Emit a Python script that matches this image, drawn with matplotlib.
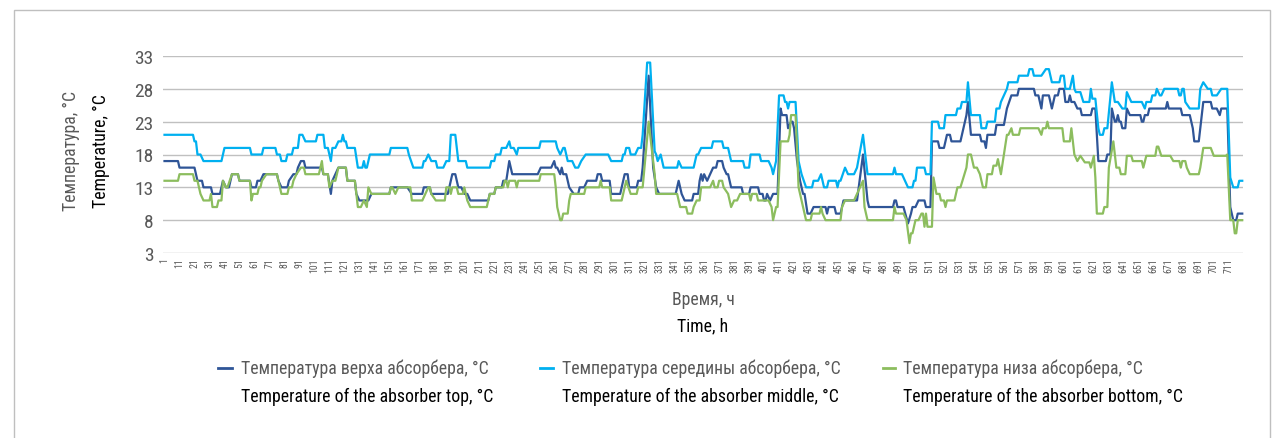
import matplotlib
matplotlib.use('Agg')
import matplotlib.pyplot as plt
from matplotlib.lines import Line2D
from matplotlib.patches import Rectangle
import logging
logging.getLogger('matplotlib.font_manager').setLevel(logging.ERROR)

plt.rcParams['font.family'] = ['Roboto Condensed', 'PT Sans Narrow', 'Fira Sans Condensed', 'DejaVu Sans']

# ---- data: (hour, temperature) key points ----
top_points = [(1,17),(10,17),(11,16),(21,16),(23,14),(26,14),(27,13),(32,13),(33,12),(38,12),(40,14),(42,13),(44,13),
 (46,15),(50,15),(51,14),(58,14),(59,13),(62,13),(63,14),(65,14),(67,15),(76,15),(77,14),(79,13),(83,13),(84,14),
 (87,15),(89,15),(90,16),(92,17),(94,17),(95,16),(106,16),(107,15),(110,15),(112,12),(113,14),(115,15),(117,16),
 (122,16),(123,14),(128,14),(129,12),(131,11),(137,11),(139,12),(151,12),(152,13),(163,13),(166,12),(173,12),
 (174,13),(178,13),(179,12),(190,12),(191,13),(193,15),(195,15),(197,13),(199,13),(201,12),(203,12),(205,11),
 (217,11),(218,12),(221,12),(222,13),(226,13),(227,14),(229,14),(231,17),(233,15),(250,15),(252,16),(259,16),
 (261,17),(262,16),(263,16),(265,15),(266,16),(267,15),(269,15),(271,13),(274,12),(277,12),(278,13),(281,13),
 (283,14),(289,14),(290,15),(292,15),(293,14),(298,14),(299,12),(305,12),(306,13),(308,15),(310,15),(311,13),
 (316,13),(317,14),(319,14),(320,16),(324,30),(327,16),(329,13),(331,12),(342,12),(344,14),(346,12),(348,11),
 (353,11),(354,12),(357,12),(358,14),(359,15),(360,14),(361,15),(363,14),(365,15),(367,16),(369,16),(370,17),
 (373,17),(374,16),(376,15),(377,15),(379,13),(386,13),(387,12),(391,12),(392,13),(397,13),(398,12),(400,12),
 (401,11),(402,11),(403,12),(405,11),(407,12),(410,12),(412,25),(413,24),(416,24),(417,22),(419,23),(420,23),
 (421,22),(423,17),(425,14),(427,12),(428,12),(430,9),(432,9),(434,10),(442,10),(443,9),(444,10),(448,10),
 (449,9),(452,9),(454,11),(463,11),(467,18),(470,11),(471,10),(487,10),(488,11),(489,11),(490,10),(494,10),
 (497,7.5),(499,9),(500,10),(502,10),(504,11),(508,11),(509,10),(512,10),(513,20),(517,20),(518,19),(521,19),
 (522,20),(523,21),(525,21),(526,20),(532,20),(533,21),(536,24),(537,26),(539,21),(545,21),(546,20),(548,20),
 (549,19),(550,21),(555,21),(556,22.5),(561,22.5),(563,25),(566,27),(570,27),(571,28),(581,28),(582,27),
 (584,27),(585,26),(586,25),(587,27),(591,27),(593,25),(595,27),(597,27),(598,28),(601,28),(602,26),(604,26),
 (605,27),(606,26),(608,26),(610,25),(612,25),(613,24),(619,24),(620,25),(622,25),(624,17),(629,17),(630,18),
 (632,18),(633,25),(635,23),(636,23),(637,24),(638,23),(639,23),(640,22),(642,22),(643,25),(645,24),(652,24),
 (653,23),(654,23),(655,24),(657,24),(658,25),(669,25),(670,26),(671,25),(679,25),(680,24),(685,24),(687,22),
 (688,20),(691,20),(692,22),(694,26),(699,26),(700,25),(703,25),(705,24),(706,25),(710,25),(712,10),(714,8),
 (716,8),(717,9),(720,9)]

middle_points = [(1,21),(20,21),(21,20),(22,20),(23,18),(25,18),(27,17),(39,17),(41,19),(58,19),(59,18),(66,18),
 (67,19),(75,19),(76,18),(78,18),(79,17),(82,17),(83,18),(86,18),(87,19),(90,19),(91,21),(93,21),(95,20),(102,20),
 (103,21),(107,21),(108,19),(110,19),(112,17),(113,19),(115,19),(117,20),(119,20),(120,21),(121,20),(122,20),
 (123,19),(128,19),(130,16),(133,16),(134,17),(135,16),(136,16),(137,17),(138,18),(151,18),(152,19),(163,19),
 (164,18),(167,16),(173,16),(174,17),(175,17),(177,18),(179,17),(182,17),(183,16),(187,16),(189,17),(191,17),
 (192,21),(195,21),(197,17),(202,17),(203,16),(218,16),(219,17),(221,17),(222,18),(225,18),(226,19),(229,19),
 (231,20),(232,19),(234,19),(236,18),(237,19),(251,19),(252,20),(262,20),(263,19),(265,18),(267,19),(268,19),
 (270,17),(273,17),(275,16),(277,16),(279,17),(282,18),(297,18),(299,17),(306,17),(307,18),(308,18),(309,19),
 (311,19),(312,18),(315,18),(317,19),(319,19),(320,21),(323,32),(325,32),(328,18.5),(329,18),(330,17),(332,18),
 (334,16),(343,16),(344,17),(346,16),(354,16),(355,17),(356,18),(357,18),(359,19),(366,19),(367,20),(373,20),
 (374,19),(377,19),(378,18),(379,17),(387,17),(388,16),(391,16),(392,18),(398,18),(399,17),(404,17),(406,16),
 (407,15),(409,17),(411,27),(414,27),(415,26),(416,26),(417,25),(418,26),(422,26),(424,17),(426,15),(429,13),
 (433,13),(434,14),(437,14),(439,15),(441,13),(443,13),(444,14),(449,14),(450,13),(451,14),(452,14),(455,16),
 (457,15),(461,15),(463,16),(467,21),(470,15),(487,15),(488,16),(489,15),(493,15),(497,13),(500,13),(501,14),
 (502,14),(503,16),(508,16),(509,15),(512,15),(513,23),(517,23),(518,22),(521,22),(522,24),(529,24),(530,25),
 (532,25),(533,26),(536,26),(537,29),(539,24),(545,24),(546,22),(549,22),(550,23),(555,23),(556,25),(558,25),
 (559,26),(561,27),(563,28),(564,29),(570,29),(571,30),(577,30),(578,31),(580,31),(581,30),(586,30),(589,31),
 (591,31),(592,30),(593,29),(598,29),(599,30),(601,30),(602,28),(605,28),(607,30),(608,28),(609,27.5),
 (612,27.5),(614,26),(618,26),(619,28),(620,26.5),(622,26.5),(624,22),(625,21),(627,21),(628,22),(630,22),
 (633,29),(635,26),(637,26),(640,25),(642,25),(643,27.5),(646,26),(653,26),(655,25),(656,26),(659,26),(660,27),
 (662,27),(663,28),(665,27),(666,27),(668,28),(677,28),(678,27),(679,27),(680,28),(681,28),(682,26),(685,25),
 (691,25),(692,28),(694,29),(697,28),(699,28),(700,27),(703,27),(706,28),(710,28),(712,14.5),(714,13),(717,13),
 (718,14),(720,14)]

bottom_points = [(1,14),(10,14),(11,15),(20,15),(21,14),(23,14),(25,12),(27,11),(31,11),(32,12),(33,10),(36,10),
 (37,11),(39,11),(40,14),(42,13),(43,13),(46,15),(50,15),(51,14),(58,14),(59,11),(60,12),(63,12),(64,13),(65,13),
 (66,14),(69,15),(76,15),(77,14),(79,12),(83,12),(84,13),(86,13),(87,14),(89,15),(92,16),(94,16),(95,15),(104,15),
 (106,17),(107,15),(110,15),(111,13),(113,14),(115,14),(117,16),(122,16),(123,14),(128,14),(129,12),(130,10),
 (132,10),(134,11),(136,10),(137,13),(139,12),(151,12),(152,13),(153,13),(155,12),(157,13),(165,13),(166,11),
 (173,11),(175,12),(177,13),(178,13),(179,12),(182,11),(188,11),(189,13),(191,13),(192,12),(193,13),(196,13),
 (197,12),(200,12),(201,13),(203,11),(205,10),(216,10),(218,12),(221,12),(222,13),(227,13),(228,14),(229,14),
 (230,13),(231,14),(235,14),(236,13),(237,14),(251,14),(252,15),(261,15),(262,13),(263,10),(265,8),(266,8),
 (267,9),(270,9),(271,11),(272,12),(281,12),(282,13),(291,13),(292,14),(293,13),(298,13),(299,11),(306,11),
 (307,12),(309,14),(312,12),(316,12),(317,13),(320,13),(324,23),(328,15),(329,12),(343,12),(345,10),(349,10),
 (350,9),(353,9),(354,10),(356,11),(358,11),(359,13),(365,13),(367,14),(368,13),(370,13),(371,14),(373,14),
 (374,13),(377,12),(379,10),(381,11),(383,11),(385,12),(391,12),(392,11),(393,12),(396,12),(397,11),(404,11),
 (406,10),(407,8),(409,10),(410,10),(412,20),(417,20),(418,21),(419,24),(422,24),(423,19),(424,13),(427,10),
 (429,8),(432,8),(433,9),(438,9),(439,10),(440,9),(442,8),(452,8),(453,10),(455,11),(461,11),(463,12),(467,14),
 (468,10),(470,8),(487,8),(488,10),(489,9),(494,9),(496,8),(498,4.5),(499,6),(500,6),(502,8),(504,8),(506,9),
 (507,9),(508,7),(509,9),(510,7),(513,7),(514,14.5),(516,12),(518,12),(519,11),(521,11),(522,10),(523,11),
 (528,11),(530,13),(532,13),(536,16),(537,18),(539,18),(541,16),(543,16),(545,15),(547,13),(549,13),(550,15),
 (553,15),(554,16.3),(556,16.3),(557,17.3),(559,15),(561,18),(563,21),(564,21),(566,22),(567,21),(571,21),
 (572,22),(584,22),(586,21),(587,22),(589,22),(590,23),(591,22),(600,22),(601,20),(605,20),(606,22),(608,18),
 (610,17),(612,17.8),(615,16.8),(618,16.8),(619,16),(621,17.8),(622,14.5),(623,9),(627,9),(628,10),(630,10),
 (631,16),(634,20),(636,16),(638,16),(639,15),(642,15),(643,17.8),(646,17.8),(647,17),(653,17),(654,16),
 (656,17.8),(662,17.8),(663,19.2),(664,19.2),(666,17.8),(672,17.8),(674,17),(678,17),(679,16),(680,17),(682,17),
 (683,16),(685,15),(691,15),(692,16),(694,19),(699,19),(701,17.8),(709,17.8),(710,18),(712,8),(714,8),(715,6),
 (716,6),(717,8),(720,8)]

x_ticks = list(range(1, 720, 10))
x_tick_labels = [str(t) for t in x_ticks]
y_ticks = [3, 8, 13, 18, 23, 28, 33]

labels_ru = ['Температура верха абсорбера, °С', 'Температура середины абсорбера, °С', 'Температура низа абсорбера, °С']
labels_en = ['Temperature of the absorber top, °C', 'Temperature of the absorber middle, °C', 'Temperature of the absorber bottom, °C']
colors = ['#2F5597', '#00B0F0', '#8CBD5E']

W, H = 1281, 439
fig = plt.figure(figsize=(W/100, H/100), dpi=100)
ax = fig.add_axes([163/W, 1-254/H, 1080/W, 197/H])

for pts, c in zip([top_points, middle_points, bottom_points], colors):
    hs = [p[0] for p in pts]
    vs = [p[1] for p in pts]
    ax.plot(hs, vs, color=c, lw=1.6, solid_joinstyle='round', clip_on=False, zorder=3)

ax.set_xlim(0, 720.5)
ax.set_ylim(3, 33)
ax.set_yticks(y_ticks)
ax.set_xticks(x_ticks)
ax.set_xticklabels(x_tick_labels, rotation=90)
ax.grid(axis='y', color='#C0C0C0', lw=1)
ax.set_axisbelow(True)
for s in ax.spines.values():
    s.set_visible(False)
ax.tick_params(axis='y', length=0, labelsize=14, labelcolor='#595959', pad=7)
ax.tick_params(axis='x', length=0, labelsize=7, labelcolor='#595959', pad=3)

grey = '#595959'
fs = 12.8
fig.text(703/W, 1-300/H, 'Время, ч', ha='center', va='center', color=grey, fontsize=fs)
fig.text(703/W, 1-326/H, 'Time, h', ha='center', va='center', color='black', fontsize=fs)
fig.text(71/W, 1-151/H, 'Температура, °С', rotation=90, ha='center', va='center', color=grey, fontsize=fs)
fig.text(101/W, 1-151/H, 'Temperature, °C', rotation=90, ha='center', va='center', color='black', fontsize=fs)

handle_x = [(218, 232), (540, 553), (883, 895)]
text_x = [241, 562, 903]
for (x0, x1), tx, c, ru, en in zip(handle_x, text_x, colors, labels_ru, labels_en):
    fig.add_artist(Line2D([x0/W, x1/W], [1-369/H, 1-369/H], color=c, lw=2, transform=fig.transFigure))
    fig.text(tx/W, 1-369/H, ru, ha='left', va='center', color=grey, fontsize=fs)
    fig.text(tx/W, 1-397/H, en, ha='left', va='center', color='black', fontsize=fs)

fig.add_artist(Rectangle((14/W, -0.05), (1270-14)/W, 1.05-11/H, fill=False, edgecolor='#BFBFBF', lw=1,
                         transform=fig.transFigure))

fig.savefig('out.png', dpi=100)
